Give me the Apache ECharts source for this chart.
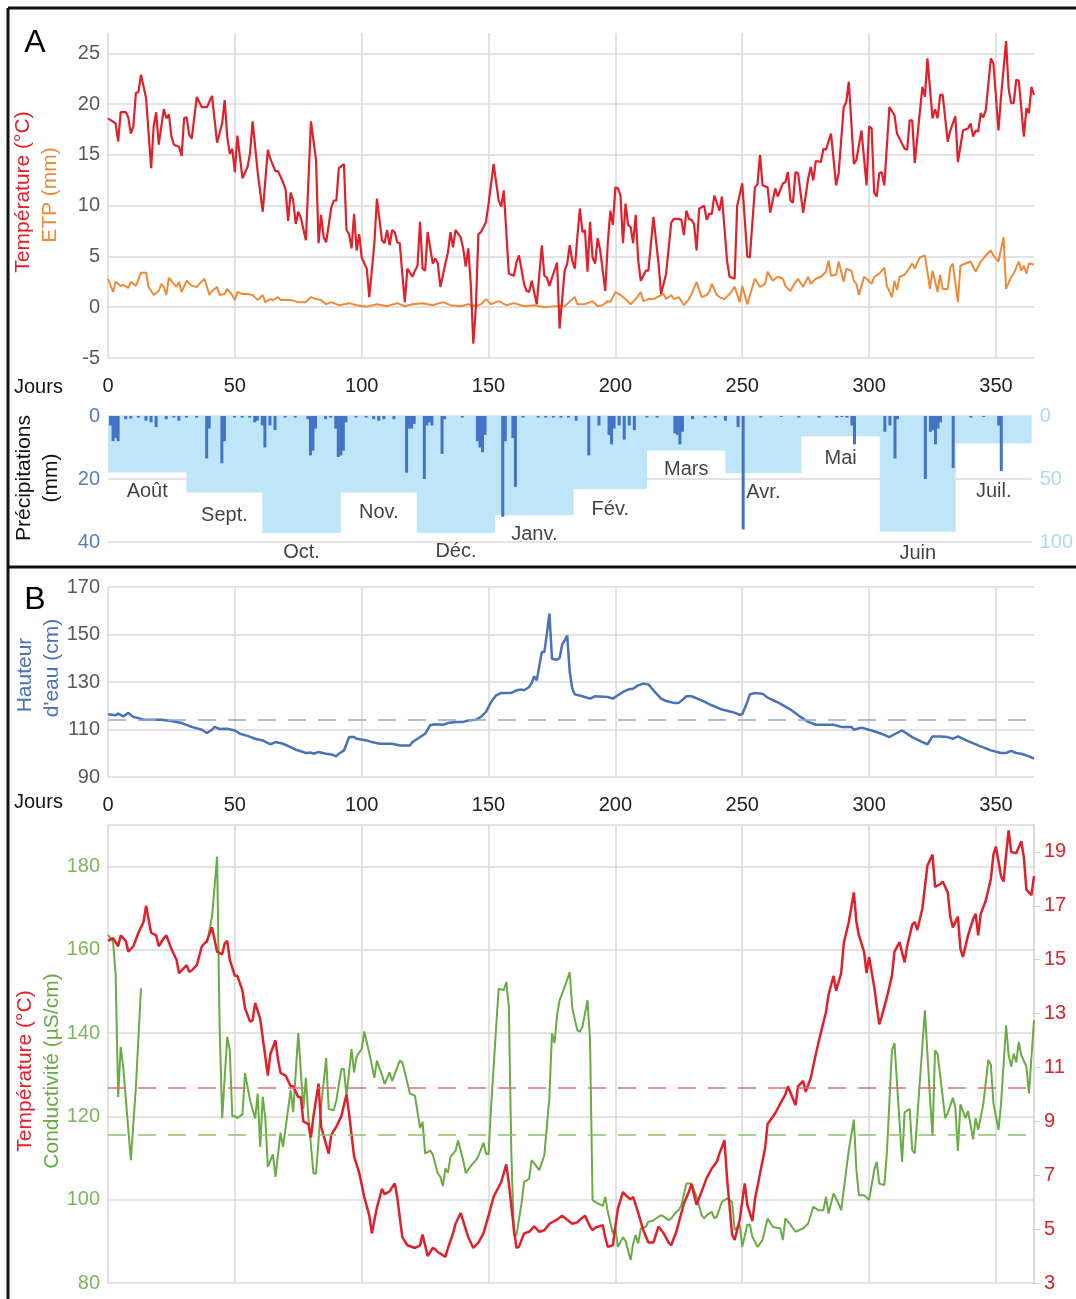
<!DOCTYPE html>
<html>
<head>
<meta charset="utf-8">
<script src="https://cdn.jsdelivr.net/npm/echarts@6.0.0/dist/echarts.min.js"></script>
<style>html,body{margin:0;padding:0;background:#fff}#chart{width:1076px;height:1299px}</style>
</head>
<body>
<div id="chart"></div>
<script>
const FONT = "'Liberation Sans', Arial, sans-serif";

// Panel A: daily air temperature (°C) and ETP (mm), [day, value]
const airTemp = [[0,18.6],[3,18.1],[4,16.3],[5,19.2],[7,19.2],[8,18.7],[9,17.1],[10,17.8],[11,21.1],[12,21.2],[13,22.9],[15,20.6],[17,13.7],[18,17.8],[19,19.2],[20,16],[22,19.5],[23,18.6],[24,19],[25,16.8],[26,16],[28,15.8],[29,14.9],[30,18.6],[31,18.7],[32,17],[33,16.6],[35,20.7],[37,19.7],[39,19.7],[41,20.8],[43,16.2],[45,18.1],[46,20.4],[47,16.8],[48,15.1],[49,15.6],[50,13.3],[51,16.9],[53,12.7],[55,13.8],[56,15.2],[57,18.3],[59,13.3],[61,9.4],[63,15.5],[64,14.6],[66,13.4],[67,13.4],[69,12.3],[70,11.6],[71,8.5],[72,11.3],[73,10.5],[74,8.2],[75,9.4],[76,8.8],[78,6.6],[80,18.3],[82,14.5],[83,6.3],[84,9.1],[85,6.9],[86,6.4],[88,9.8],[89,10.5],[90,10.5],[91,13.7],[92,13.9],[93,14.1],[94,7.6],[95,7.2],[96,5.8],[97,9.2],[98,5.6],[99,7.2],[100,4.9],[102,3.8],[103,1.0],[105,6.3],[106,10.7],[108,6.6],[109,6.3],[110,7.6],[111,6.1],[112,7.6],[113,7.4],[114,6.4],[115,6.3],[116,3.3],[117,0.5],[118,3.8],[120,3.0],[121,3.6],[122,4.1],[123,8.4],[124,3.8],[125,3.6],[126,7.4],[128,4.3],[129,4.8],[130,4.3],[131,2.0],[133,4.3],[134,5.4],[135,7.4],[136,5.9],[137,7.6],[139,6.9],[140,5.8],[141,4.0],[142,5.8],[143,2.3],[144,-3.6],[145,0],[146,7.2],[147,7.4],[149,8.4],[150,10.2],[152,14.1],[154,10.5],[155,9.9],[156,11.5],[158,3.3],[160,3.1],[161,4.4],[162,5.1],[164,2.3],[165,1.6],[166,1.5],[167,2.6],[169,0.3],[171,6.1],[172,3.1],[173,2.9],[174,2.1],[175,2.9],[177,4.4],[178,-2.1],[180,3.6],[181,4.3],[182,6.1],[183,4.6],[184,3.8],[185,6.9],[186,9.7],[187,7.4],[188,7.6],[189,3.5],[190,8.4],[191,4.9],[192,4.3],[193,6.8],[194,5.6],[196,1.6],[197,6.3],[198,9.5],[199,8.1],[200,11.8],[201,11.7],[202,11.0],[203,6.3],[204,10.2],[205,8.1],[206,7.9],[207,6.3],[208,9.1],[209,4.6],[210,2.6],[212,3.6],[213,3.6],[215,8.9],[217,4.3],[218,1.3],[220,3.3],[222,8.3],[223,8.7],[225,8.7],[226,8.6],[227,7.1],[228,9.5],[229,8.7],[230,8.6],[231,8.2],[232,5.6],[233,9.7],[235,10.0],[236,8.6],[237,9.2],[238,9.2],[239,11.0],[241,9.5],[242,10.9],[244,4.6],[245,3.0],[247,2.8],[248,10.0],[250,12.2],[252,5.0],[253,4.9],[255,11.8],[256,12.1],[257,15.0],[258,12.0],[260,11.8],[261,9.3],[263,11.7],[264,10.9],[266,12.2],[267,12.3],[268,13.3],[269,10.5],[270,10.3],[271,13.3],[272,13.2],[274,9.3],[276,12.7],[277,13.8],[278,12.5],[279,14.4],[281,14.3],[282,15.6],[283,15.5],[285,17.1],[287,12.0],[288,13.2],[290,19.7],[291,20.2],[292,22.2],[294,14.1],[295,14.5],[297,17.4],[299,12.0],[300,17.8],[301,17.6],[302,11.3],[303,10.9],[304,13.2],[305,13.3],[306,12.0],[308,19.7],[310,18.9],[311,17.1],[312,16.6],[314,15.6],[315,15.5],[316,18.4],[317,18.4],[318,14.2],[321,21.7],[322,20.7],[323,24.5],[325,18.6],[326,19.5],[327,18.6],[328,20.9],[329,20.9],[331,16.3],[332,17.4],[334,18.8],[335,14.3],[337,17.4],[339,17.6],[340,18.1],[341,16.8],[342,17.4],[343,17.3],[344,19.1],[345,18.7],[346,19.4],[348,24.5],[349,24.0],[351,17.4],[352,20.7],[354,26.2],[355,21.5],[356,20.1],[357,20.1],[358,22.4],[359,22.3],[361,16.8],[362,19.6],[363,19.1],[364,21.7],[365,20.9]];

const etp = [[0,2.8],[2,1.5],[3,2.5],[5,2.1],[6,2.2],[8,1.9],[9,2.5],[11,2.1],[13,3.4],[15,3.4],[16,2.0],[18,1.2],[20,1.6],[21,2.3],[22,2.0],[23,1.2],[24,2.9],[26,2.3],[27,2.0],[28,2.5],[29,1.5],[31,2.6],[33,2.1],[35,2.0],[36,2.3],[38,2.8],[40,1.2],[41,1.6],[43,2.0],[44,1.2],[46,1.3],[47,1.8],[49,1.2],[50,0.7],[51,1.5],[53,1.3],[55,1.3],[57,1.2],[59,0.7],[61,1.2],[62,0.5],[64,0.8],[65,0.7],[67,1.0],[68,0.7],[70,0.7],[72,0.7],[75,0.5],[78,0.5],[80,1.0],[82,0.8],[84,0.7],[86,0.3],[88,0.5],[91,0.2],[95,0.4],[98,0.2],[102,0.05],[106,0.3],[110,0.1],[114,0.4],[117,0.1],[120,0.3],[124,0.4],[128,0.2],[132,0.5],[135,0.2],[139,0.1],[142,0.3],[145,0.1],[147,0.3],[149,0.8],[151,0.3],[154,0.6],[157,0.2],[160,0.4],[164,0.1],[168,0.2],[172,0],[176,0.1],[180,0.1],[184,1.0],[185,0.3],[188,0.3],[190,0.5],[191,0.6],[193,0.1],[195,0.2],[197,0.6],[198,0.5],[200,1.5],[202,1.2],[204,0.8],[206,0.3],[208,0.8],[210,1.5],[211,0.6],[213,0.8],[215,0.8],[219,1.3],[220,0.8],[222,1.2],[223,0.8],[225,1.0],[227,0.2],[229,0.8],[230,1.3],[232,2.5],[234,1.0],[236,1.2],[237,1.5],[238,2.3],[240,1.2],[241,1.0],[243,0.8],[245,1.3],[247,2.0],[249,0.5],[250,2.1],[252,0.3],[254,2.0],[255,2.8],[257,2.0],[259,2.3],[260,3.5],[262,2.6],[264,3.0],[266,2.8],[267,2.1],[269,1.6],[271,2.5],[272,2.8],[274,2.0],[276,3.0],[277,2.3],[279,2.8],[281,3.0],[283,3.5],[284,4.6],[285,3.1],[287,3.2],[288,4.5],[290,2.5],[291,3.8],[293,3.6],[294,2.6],[295,2.3],[296,1.2],[298,3.0],[299,2.8],[301,2.3],[302,3.0],[304,3.3],[306,3.9],[307,2.1],[309,1.0],[310,2.6],[311,1.7],[312,3.0],[314,3.2],[316,3.9],[317,4.3],[318,3.8],[320,4.9],[322,5.1],[324,1.8],[325,3.6],[327,1.5],[328,3.2],[329,1.8],[331,1.8],[332,3.9],[333,4.3],[335,0.5],[336,4.1],[338,4.3],[340,4.5],[342,3.5],[344,4.5],[346,5.1],[348,5.6],[349,5.1],[351,4.5],[353,6.9],[354,1.8],[356,3.0],[357,3.3],[359,4.5],[360,3.6],[361,4.1],[362,3.3],[363,4.3],[365,4.2]];

// daily precipitation (mm)
const rainDaily = [[1,3],[2,8],[3,7],[4,8],[7,1],[9,0.8],[12,0.5],[15,1.5],[17,2],[19,3.5],[23,1],[26,0.5],[28,1.5],[31,0.5],[35,0.5],[39,13.5],[40,4],[45,15],[46,8],[50,0.5],[53,0.5],[56,0.5],[58,2],[59,1.5],[61,3],[62,10],[64,3],[66,4.5],[70,0.5],[74,0.5],[79,1],[80,12.5],[81,11],[82,4],[86,1],[88,0.5],[90,4],[91,13],[92,12.5],[93,11],[94,2],[98,0.5],[102,0.5],[105,1],[107,1.5],[109,1],[113,1],[118,18],[119,4],[120,4],[121,2.5],[125,20],[126,3],[127,2],[128,3],[132,12],[133,1],[140,0.5],[146,8],[147,10],[148,11.5],[149,6],[156,32],[157,8],[160,7],[161,22.5],[164,0.5],[170,0.5],[173,0.5],[176,0.5],[179,0.5],[182,0.5],[185,1.5],[190,12.5],[194,3],[198,6],[199,9],[200,4],[202,3],[204,7.5],[206,3],[208,4.5],[213,0.5],[217,0.5],[224,5.5],[225,6],[226,9],[227,5],[231,1],[236,0.5],[240,0.5],[244,1.5],[249,3.5],[251,36],[258,0.5],[266,0.3],[273,0.5],[281,0.5],[288,0.5],[290,0.3],[292,0.5],[294,3],[295,9],[307,5],[309,3],[311,13.5],[312,1],[323,20],[325,5],[326,4.5],[327,9],[328,4],[329,2],[334,16.5],[341,0.5],[346,0.3],[352,3],[353,17.5]];

// monthly precipitation (mm, right axis)
const monthNames = ['Août','Sept.','Oct.','Nov.','Déc.','Janv.','Fév.','Mars','Avr.','Mai','Juin','Juil.'];
const monthStart = [0,31,61,92,122,153,184,213,244,274,305,335];
const monthEnd = 365;
const monthRain = [44.8,60.8,92.8,60.8,92.8,78.7,58,27.4,45.2,16,91.8,21.8];
// gap between block bottom and month name, px
const monthLabelGap = [9,12,9,9,8,9,10,8,9,12,11,38];

// Panel B: water height (cm)
const waterHeight = [[0,116.4],[3,116],[4,116.7],[6,115.5],[8,117],[10,115.3],[12,114.8],[14,114.1],[21,114.1],[25,113.6],[29,112.7],[33,111.1],[37,109.9],[39,108.5],[41,109.9],[42,111.1],[44,110.2],[47,110.3],[50,109.6],[52,108.2],[55,107.3],[58,106.1],[61,105.4],[63,104.3],[64,103.8],[66,104.7],[69,104],[72,102.6],[74,101.5],[77,100.5],[78,100.1],[80,100.3],[81,99.8],[83,100.5],[86,99.8],[88,99.5],[90,98.7],[91,99.8],[93,101.2],[94,103.8],[95,106.8],[97,106.8],[98,106.1],[102,105.4],[104,104.7],[107,104],[112,104],[115,103.3],[119,103.3],[120,104.7],[122,106.1],[125,108.2],[127,111.8],[129,112.2],[132,112],[134,112.7],[137,113.2],[140,113.2],[142,113.8],[145,114.1],[147,115.3],[149,117.4],[151,121.6],[153,124.4],[155,125.4],[159,125.4],[161,126.5],[163,126.8],[164,126.5],[166,127.9],[167,129.6],[168,132.4],[169,130.7],[171,142.6],[172,142.6],[173,150.4],[174,158.8],[175,139.8],[177,139.4],[178,140],[179,145.7],[180,147.5],[181,149.6],[182,134.2],[183,127.2],[184,124.8],[187,124],[190,123],[192,124],[197,123.7],[199,123],[201,124.4],[203,125.8],[205,126.8],[207,127.2],[209,128.6],[211,129.3],[213,129],[215,126.5],[218,123],[220,122],[223,121.2],[225,121.2],[227,123],[228,124],[230,124],[234,122.3],[238,120.2],[242,118.4],[246,117.4],[249,116.2],[250,116.4],[252,121.6],[253,124.8],[255,125.4],[258,125.1],[260,123.4],[265,120.9],[269,118.4],[273,115.3],[276,113.2],[279,112],[286,112],[289,111.1],[293,111.1],[294,109.9],[297,110.8],[301,109.6],[305,108.2],[308,106.8],[310,108],[313,109.6],[317,106.8],[321,104.7],[323,103.8],[325,107.1],[328,107.1],[331,106.8],[333,106.1],[335,107.1],[339,105.1],[343,103.3],[348,101.2],[352,100.1],[354,100.1],[356,101],[358,100.1],[360,99.8],[363,98.7],[365,97.8]];
const waterMean = 114;

// conductivity (µS/cm) and water temperature (°C)
const conductivity = [[0,163.6],[2,162],[3,154.4],[4,124.7],[5,136.7],[6,131.9],[9,109.5],[11,127.1],[13,150.8],[20,null],[39,161.6],[41,168],[43,182.4],[44,141.5],[45,119.6],[47,139.1],[48,135.9],[49,120],[50,120.1],[51,119.6],[53,120.5],[54,130.4],[56,123.9],[58,119.5],[59,125.5],[60,112.7],[61,124.7],[62,119.6],[63,107.9],[65,110.9],[66,105.5],[68,116.1],[69,112.7],[72,126.3],[73,121],[75,140],[77,121.8],[78,129.3],[79,119.6],[81,106.3],[82,106.3],[84,122.5],[86,134],[87,121.8],[89,121.5],[90,123.9],[92,131.4],[93,131.4],[94,124.9],[96,136.2],[97,130.6],[98,134.4],[100,136.2],[101,140.4],[103,135.2],[105,129.3],[106,133.4],[108,130],[109,127.8],[111,130.6],[112,128.5],[115,133.4],[116,133],[117,130.6],[119,125.5],[121,125],[123,117.2],[124,118.7],[125,111.1],[127,111.8],[128,110.9],[130,106.3],[131,105.5],[132,103.3],[133,107.5],[134,106.5],[135,110.3],[137,111.8],[138,114.2],[140,109.5],[141,106.4],[143,108.1],[145,109.5],[146,110.5],[148,113.7],[149,111.1],[150,110.9],[151,122.3],[153,141.5],[154,150.7],[156,150.3],[157,152.3],[158,146.3],[159,110.9],[160,91.5],[161,91.5],[163,99.1],[164,104.3],[166,105],[167,109.5],[170,107.1],[172,110.7],[174,124.7],[175,140],[176,137.6],[177,144.3],[178,147.9],[180,151.1],[182,154.7],[183,146],[185,140.7],[186,140.4],[187,141.5],[189,147.9],[190,138.5],[191,99.9],[193,99.1],[195,98.5],[196,100.7],[197,97.1],[199,91.9],[200,93.1],[201,88.7],[203,91],[204,90.1],[206,85.5],[207,89.5],[208,91.5],[209,89.5],[210,93.1],[212,93.5],[213,94.7],[215,95],[216,95.5],[218,96.3],[219,96],[221,95.1],[222,95.5],[224,97.1],[225,97.5],[226,98.7],[228,103.9],[230,103.9],[232,100.7],[234,96.3],[235,95.5],[236,96.3],[238,97.1],[239,95.5],[240,96],[242,99.5],[244,100.3],[246,99.5],[247,92.7],[249,94],[250,88.7],[252,94],[253,94],[254,91.1],[256,88.7],[258,90.3],[260,95.5],[262,93.5],[265,93.1],[266,90.3],[267,95.5],[269,94],[271,92.3],[274,93.1],[276,94.3],[278,98.3],[280,97.5],[282,97.5],[283,100.7],[284,96.7],[286,101.5],[288,99],[289,97.5],[291,107.1],[292,111.9],[294,119.2],[295,107.1],[296,101.1],[298,101.1],[300,99.9],[302,107.1],[303,109.1],[304,103.9],[306,103.5],[307,111.1],[309,135.9],[310,137.6],[313,109.1],[314,121],[316,121.8],[317,111.9],[318,111.1],[320,128.4],[322,145.5],[324,124.5],[325,115.3],[326,135.9],[327,135],[330,119.6],[331,120.8],[333,124.5],[334,122.1],[335,111.7],[336,122.9],[338,119.6],[339,121.3],[341,114.5],[342,119.6],[343,116.8],[345,122.9],[347,133.6],[348,132.4],[349,123.3],[351,116.8],[352,122.9],[354,141.9],[355,134.7],[356,132],[357,135.1],[358,133],[359,137.9],[360,134.7],[362,132],[363,125.5],[365,143.1]];
const condMean = 115.5;

const waterTemp = [[0,15.7],[2,15.8],[4,15.5],[5,15.9],[7,15.7],[8,15.3],[10,15.5],[12,16.0],[14,16.4],[15,17.0],[17,16.0],[19,15.9],[20,15.5],[22,15.8],[23,15.9],[25,15.4],[27,15.0],[28,14.5],[29,14.6],[31,14.8],[32,14.55],[33,14.6],[35,14.8],[37,15.5],[39,15.7],[41,16.2],[43,15.3],[45,15.2],[46,15.6],[47,15.7],[48,15.0],[50,14.4],[51,14.4],[53,13.85],[54,13.2],[56,12.7],[57,12.75],[58,13.4],[60,12.8],[62,11.4],[63,10.7],[64,11.5],[66,12.0],[67,11.3],[68,10.8],[70,10.7],[72,10.3],[73,10.3],[75,9.9],[76,9.9],[77,9.0],[79,8.9],[80,8.4],[81,9.2],[83,10.4],[84,8.8],[87,7.8],[88,8.5],[90,8.8],[92,9.2],[94,10.0],[95,9.3],[97,7.7],[99,7.1],[101,6.2],[103,5.5],[104,4.84],[106,5.8],[108,6.5],[109,6.3],[111,6.4],[113,6.7],[114,6.2],[116,4.7],[118,4.4],[121,4.3],[123,4.4],[124,4.8],[126,4.0],[128,4.3],[129,4.25],[130,4.15],[133,3.97],[134,4.3],[136,4.84],[137,5.2],[139,5.6],[141,5.0],[142,4.7],[144,4.3],[146,4.5],[148,4.84],[150,5.5],[152,6.2],[155,6.75],[157,7.4],[158,6.7],[160,5.0],[161,4.3],[162,4.35],[164,4.84],[166,4.9],[168,5.1],[170,4.9],[172,4.96],[174,5.2],[177,5.35],[179,5.5],[181,5.35],[183,5.2],[185,5.25],[186,5.35],[188,5.5],[190,5.1],[191,4.96],[192,5.05],[195,5.15],[196,4.7],[197,4.34],[199,4.4],[200,5.1],[201,5.77],[203,6.38],[204,6.26],[206,6.1],[207,6.2],[209,5.6],[211,4.96],[213,4.5],[215,4.5],[217,5.1],[219,4.85],[221,4.5],[222,4.4],[224,4.9],[227,5.95],[229,6.4],[230,6.67],[232,5.9],[234,6.4],[236,6.9],[238,7.25],[240,7.5],[241,7.8],[243,8.3],[244,6.9],[246,4.8],[247,4.6],[249,5.35],[251,6.7],[252,5.9],[254,5.3],[255,6.1],[257,7.06],[259,8.0],[260,8.9],[263,9.3],[265,9.66],[267,10.0],[268,10.3],[271,9.6],[272,10.3],[274,10.5],[275,10.1],[277,10.6],[279,11.5],[281,12.3],[283,13.05],[284,13.7],[286,14.4],[287,13.85],[289,14.5],[290,15.6],[292,16.4],[294,17.5],[295,16.4],[296,15.9],[298,15.3],[299,14.5],[300,15.1],[302,14.0],[304,12.6],[305,12.9],[307,13.6],[309,14.4],[310,15.3],[312,15.65],[314,14.9],[315,15.5],[317,16.3],[318,16.4],[319,16.1],[321,16.9],[322,17.7],[323,18.5],[325,18.9],[326,17.7],[328,17.8],[329,17.9],[331,17.5],[332,16.6],[333,16.2],[335,16.6],[336,15.4],[337,15.1],[339,15.9],[341,16.5],[342,16.7],[343,15.9],[344,16.7],[346,17.2],[348,18.0],[349,18.9],[350,19.2],[352,18.1],[353,17.9],[354,18.9],[355,19.8],[356,19.0],[358,18.95],[360,19.4],[361,18.8],[362,17.6],[364,17.4],[365,18.1]];
const waterTempMean = 10.26;

// step outline for monthly blocks
const monthSteps = monthStart.map((d, i) => [d, monthRain[i]]).concat([[monthEnd, monthRain[monthRain.length - 1]]]);
const monthLabelPts = monthStart.map((d, i) => {
  const end = i < monthStart.length - 1 ? monthStart[i + 1] : monthEnd;
  return {value: [(d + end) / 2, monthRain[i]], label: {distance: monthLabelGap[i]}};
});

const GRID_LINE = '#dadada';

function xAxisFor(grid, labels, split) {
  return {
    type: 'value', gridIndex: grid, min: 0, max: 365, interval: 50,
    axisLine: {show: false}, axisTick: {show: false},
    axisLabel: {show: labels, showMaxLabel: false, color: '#222', fontSize: 20, margin: 18, fontFamily: FONT},
    splitLine: {show: split, showMaxLine: false, lineStyle: {color: GRID_LINE, width: 1.5}}
  };
}

const chart = echarts.init(document.getElementById('chart'), null, {renderer: 'canvas'});

chart.setOption({
  animation: false,
  backgroundColor: '#fff',
  grid: [
    {left: 108, right: 42, top: 33, height: 325},
    {left: 108, right: 42, top: 416, height: 126},
    {left: 108, right: 42, top: 587, height: 190},
    {left: 108, right: 42, top: 825, height: 458}
  ],
  xAxis: [xAxisFor(0, true, true), xAxisFor(1, false, false), xAxisFor(2, true, true), xAxisFor(3, false, true)],
  yAxis: [
    {type: 'value', gridIndex: 0, min: -5, max: 27, interval: 5,
      axisLine: {show: false}, axisTick: {show: false},
      axisLabel: {color: '#595959', fontSize: 20, margin: 8, showMaxLabel: false, fontFamily: FONT},
      splitLine: {showMaxLine: false, lineStyle: {color: GRID_LINE, width: 1.5}}},
    {type: 'value', gridIndex: 1, min: 0, max: 40, interval: 20, inverse: true,
      axisLine: {show: false}, axisTick: {show: false},
      axisLabel: {color: '#5a7cb8', fontSize: 20, margin: 8, fontFamily: FONT},
      splitLine: {lineStyle: {color: GRID_LINE, width: 1.5}}},
    {type: 'value', gridIndex: 1, position: 'right', min: 0, max: 100, interval: 50, inverse: true,
      axisLine: {show: false}, axisTick: {show: false},
      axisLabel: {color: '#a9dcf1', fontSize: 20, margin: 8, fontFamily: FONT},
      splitLine: {show: false}},
    {type: 'value', gridIndex: 2, min: 90, max: 170, interval: 20,
      axisLine: {show: false}, axisTick: {show: false},
      axisLabel: {color: '#595959', fontSize: 20, margin: 8, fontFamily: FONT},
      splitLine: {lineStyle: {color: GRID_LINE, width: 1.5}}},
    {type: 'value', gridIndex: 3, min: 80, max: 190, interval: 20,
      axisLine: {show: false}, axisTick: {show: false},
      axisLabel: {color: '#7cb55a', fontSize: 20, margin: 8, showMaxLabel: false, fontFamily: FONT},
      splitLine: {lineStyle: {color: GRID_LINE, width: 1.5}}},
    {type: 'value', gridIndex: 3, position: 'right', min: 3, max: 20, interval: 2,
      axisLine: {show: true, lineStyle: {color: '#cfcfcf', width: 1.5}},
      axisTick: {show: true, length: 6, lineStyle: {color: '#cfcfcf'}},
      axisLabel: {color: '#d9252b', fontSize: 20, margin: 10, showMaxLabel: false, fontFamily: FONT},
      splitLine: {show: false}}
  ],
  series: [
    {name: 'ETP', type: 'line', xAxisIndex: 0, yAxisIndex: 0, data: etp, symbol: 'none',
      lineStyle: {color: '#ef8a3a', width: 2}},
    {name: 'Température', type: 'line', xAxisIndex: 0, yAxisIndex: 0, data: airTemp, symbol: 'none',
      lineStyle: {color: '#e0202a', width: 2.2}},
    {name: 'Précipitations mensuelles', type: 'line', xAxisIndex: 1, yAxisIndex: 2, data: monthSteps,
      step: 'end', symbol: 'none', lineStyle: {width: 0}, areaStyle: {color: '#bfe6f8', opacity: 1}, z: 1},
    {name: 'Précipitations', type: 'bar', xAxisIndex: 1, yAxisIndex: 1, data: rainDaily,
      barWidth: 3, itemStyle: {color: '#4472c4'}, z: 3},
    {name: 'Mois', type: 'scatter', xAxisIndex: 1, yAxisIndex: 2, data: monthLabelPts,
      symbolSize: 1, itemStyle: {color: 'rgba(0,0,0,0)'}, z: 4,
      label: {show: true, position: 'bottom', distance: 9, color: '#111', fontSize: 20, fontFamily: FONT,
        formatter: p => monthNames[p.dataIndex]}},
    {name: 'Hauteur', type: 'line', xAxisIndex: 2, yAxisIndex: 3, data: waterHeight, symbol: 'none',
      lineStyle: {color: '#4a72b6', width: 2.5},
      markLine: {symbol: 'none', silent: true, label: {show: false},
        lineStyle: {color: '#91a7cf', type: [18, 12], width: 1.5}, data: [{yAxis: waterMean}]}},
    {name: 'Conductivité', type: 'line', xAxisIndex: 3, yAxisIndex: 4, data: conductivity, symbol: 'none',
      connectNulls: false, lineStyle: {color: '#6aab46', width: 2},
      markLine: {symbol: 'none', silent: true, label: {show: false},
        lineStyle: {color: '#8fc06b', type: [18, 12], width: 1.5}, data: [{yAxis: condMean}]}},
    {name: 'Température eau', type: 'line', xAxisIndex: 3, yAxisIndex: 5, data: waterTemp, symbol: 'none',
      lineStyle: {color: '#e0202a', width: 2.5},
      markLine: {symbol: 'none', silent: true, label: {show: false},
        lineStyle: {color: '#e46a6a', type: [18, 12], width: 1.5}, data: [{yAxis: waterTempMean}]}}
  ],
  graphic: [
    {type: 'line', shape: {x1: 8, y1: 8, x2: 1076, y2: 8}, style: {stroke: '#111', lineWidth: 3}},
    {type: 'line', shape: {x1: 8, y1: 8, x2: 8, y2: 1299}, style: {stroke: '#111', lineWidth: 3}},
    {type: 'line', shape: {x1: 8, y1: 567, x2: 1076, y2: 567}, style: {stroke: '#111', lineWidth: 3}},
    {type: 'text', x: 35, y: 43, style: {text: 'A', font: '32px ' + FONT, fill: '#000', align: 'center', verticalAlign: 'middle', textAlign: 'center', textVerticalAlign: 'middle'}},
    {type: 'text', x: 35, y: 600, style: {text: 'B', font: '32px ' + FONT, fill: '#000', align: 'center', verticalAlign: 'middle', textAlign: 'center', textVerticalAlign: 'middle'}},
    {type: 'text', x: 14, y: 387, style: {text: 'Jours', font: '20px ' + FONT, fill: '#111', align: 'left', verticalAlign: 'middle', textAlign: 'left', textVerticalAlign: 'middle'}},
    {type: 'text', x: 14, y: 802, style: {text: 'Jours', font: '20px ' + FONT, fill: '#111', align: 'left', verticalAlign: 'middle', textAlign: 'left', textVerticalAlign: 'middle'}},
    {type: 'text', x: 23, y: 192, rotation: Math.PI / 2, style: {text: 'Température (°C)', font: '21px ' + FONT, fill: '#e0202a', align: 'center', verticalAlign: 'middle', textAlign: 'center', textVerticalAlign: 'middle'}},
    {type: 'text', x: 50, y: 195, rotation: Math.PI / 2, style: {text: 'ETP (mm)', font: '21px ' + FONT, fill: '#ef8a3a', align: 'center', verticalAlign: 'middle', textAlign: 'center', textVerticalAlign: 'middle'}},
    {type: 'text', x: 24, y: 478, rotation: Math.PI / 2, style: {text: 'Précipitations', font: '21px ' + FONT, fill: '#111', align: 'center', verticalAlign: 'middle', textAlign: 'center', textVerticalAlign: 'middle'}},
    {type: 'text', x: 51, y: 478, rotation: Math.PI / 2, style: {text: '(mm)', font: '21px ' + FONT, fill: '#111', align: 'center', verticalAlign: 'middle', textAlign: 'center', textVerticalAlign: 'middle'}},
    {type: 'text', x: 25, y: 675, rotation: Math.PI / 2, style: {text: 'Hauteur', font: '21px ' + FONT, fill: '#4a72b6', align: 'center', verticalAlign: 'middle', textAlign: 'center', textVerticalAlign: 'middle'}},
    {type: 'text', x: 52, y: 668, rotation: Math.PI / 2, style: {text: "d'eau (cm)", font: '21px ' + FONT, fill: '#4a72b6', align: 'center', verticalAlign: 'middle', textAlign: 'center', textVerticalAlign: 'middle'}},
    {type: 'text', x: 25, y: 1071, rotation: Math.PI / 2, style: {text: 'Température (°C)', font: '21px ' + FONT, fill: '#e0202a', align: 'center', verticalAlign: 'middle', textAlign: 'center', textVerticalAlign: 'middle'}},
    {type: 'text', x: 52, y: 1071, rotation: Math.PI / 2, style: {text: 'Conductivité (µS/cm)', font: '21px ' + FONT, fill: '#6aab46', align: 'center', verticalAlign: 'middle', textAlign: 'center', textVerticalAlign: 'middle'}}
  ]
});
</script>
</body>
</html>
